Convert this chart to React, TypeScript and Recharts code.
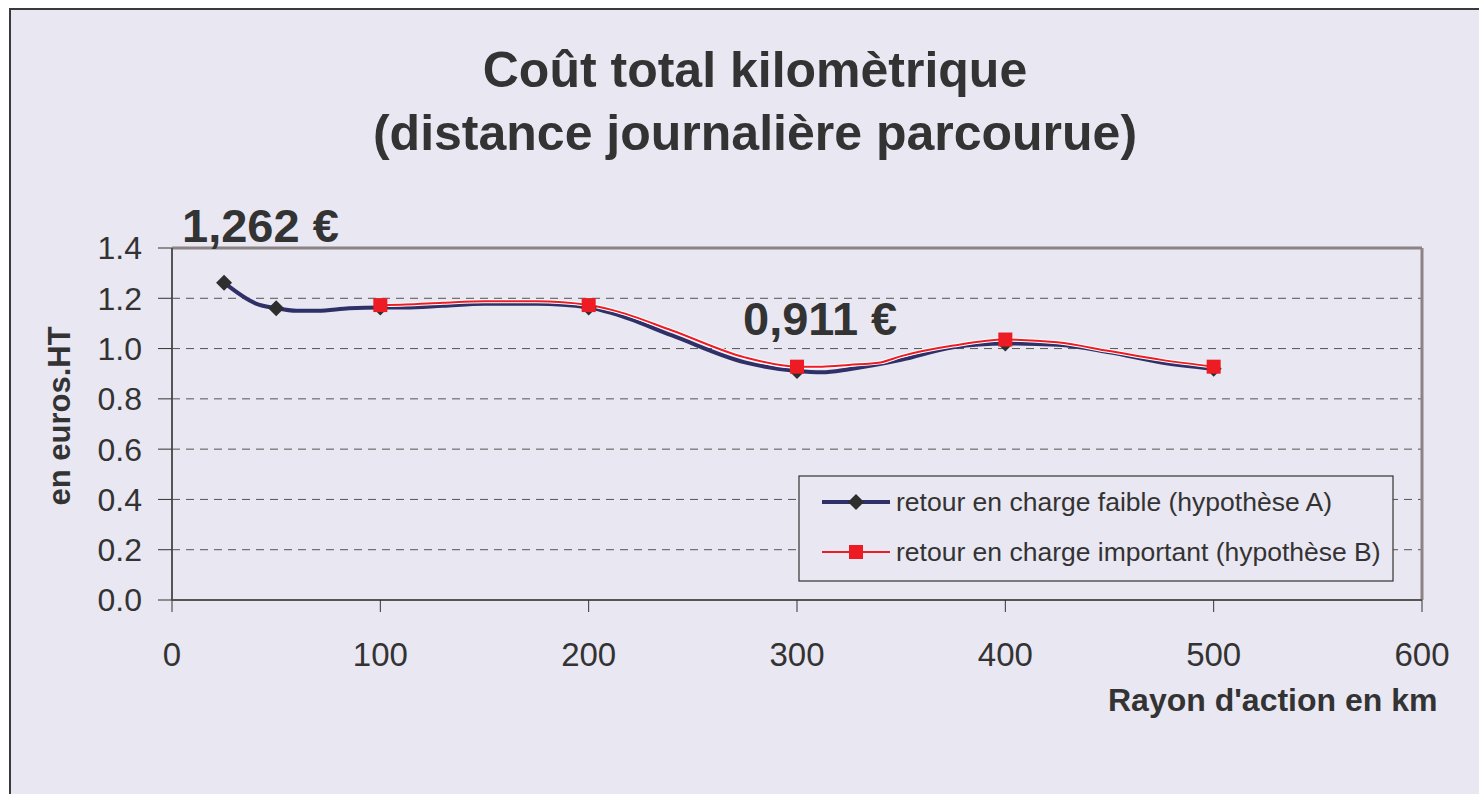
import React from "react";
import {
  CartesianGrid,
  Line,
  LineChart,
  ReferenceLine,
  XAxis,
  YAxis,
} from "recharts";

// hypothèse A : retour en charge faible
const KM_A = [25, 40, 50, 60, 70, 85, 100, 112, 130, 150, 175, 200, 212, 240, 275, 300, 312, 325, 350, 375, 400, 425, 450, 475, 500];
const COST_A = [1.262, 1.18, 1.16, 1.15, 1.15, 1.16, 1.163, 1.163, 1.17, 1.178, 1.178, 1.163, 1.139, 1.052, 0.945, 0.911, 0.906, 0.918, 0.955, 1.005, 1.02, 1.015, 0.985, 0.945, 0.92];
const MARK_A = [25, 50, 100, 200, 300, 400, 500];

// hypothèse B : retour en charge important
const KM_B = [100, 112, 130, 150, 175, 200, 212, 240, 275, 300, 312, 325, 340, 350, 375, 400, 425, 450, 475, 500];
const COST_B = [1.173, 1.175, 1.182, 1.188, 1.188, 1.173, 1.152, 1.072, 0.965, 0.928, 0.928, 0.935, 0.945, 0.97, 1.012, 1.036, 1.025, 0.99, 0.955, 0.928];
const MARK_B = [100, 200, 300, 400, 500];

const X_TICKS = [0, 100, 200, 300, 400, 500, 600];
const Y_TICKS = [0, 0.2, 0.4, 0.6, 0.8, 1.0, 1.2, 1.4];

const SERIES_A_NAME = "retour en charge faible (hypothèse A)";
const SERIES_B_NAME = "retour en charge important (hypothèse B)";

const seriesA = KM_A.map((km, i) => ({ km, cost: COST_A[i] }));
const seriesB = KM_B.map((km, i) => ({ km, cost: COST_B[i] }));

const FONT = '"Liberation Sans", Arial, sans-serif';
const BG = "#E9E7F2";
const TEXT = "#333333";
const NAVY = "#2F3068";
const RED = "#ED1C24";

const diamondDot = (props: any) => {
  const { cx, cy, payload, index } = props;
  if (!MARK_A.includes(payload.km)) return <g key={`a-${index}`} />;
  return (
    <path
      key={`a-${index}`}
      d={`M${cx},${cy - 8} L${cx + 8},${cy} L${cx},${cy + 8} L${cx - 8},${cy} Z`}
      fill="#2e2e2e"
    />
  );
};

const squareDot = (props: any) => {
  const { cx, cy, payload, index } = props;
  if (!MARK_B.includes(payload.km)) return <g key={`b-${index}`} />;
  return <rect key={`b-${index}`} x={cx - 7} y={cy - 7} width={14} height={14} fill={RED} />;
};

export default function App() {
  return (
    <>
      <style>{`body{margin:0;overflow:hidden;background:#fff}`}</style>
      <div
        style={{
          position: "absolute",
          left: 9,
          top: 8,
          width: 1468,
          height: 784,
          background: BG,
          borderLeft: "2px solid #3a3a3a",
          borderTop: "2px solid #3a3a3a",
          fontFamily: FONT,
        }}
      >
        <LineChart
          width={1468}
          height={784}
          margin={{ top: 238, right: 57, left: 61, bottom: 134 }}
        >
          <CartesianGrid
            vertical={false}
            stroke="#555"
            strokeDasharray="8 6"
          />
          <XAxis
            type="number"
            dataKey="km"
            domain={[0, 600]}
            ticks={X_TICKS}
            height={60}
            allowDuplicatedCategory={false}
            axisLine={{ stroke: "#555", strokeWidth: 2 }}
            tickLine={{ stroke: "#333" }}
            tickSize={12}
            tickMargin={31}
            tick={{ fill: TEXT, fontSize: 33, fontFamily: FONT }}
          />
          <YAxis
            type="number"
            domain={[0, 1.4]}
            ticks={Y_TICKS}
            width={100}
            axisLine={{ stroke: "#555", strokeWidth: 2 }}
            tickLine={{ stroke: "#333" }}
            tickSize={14}
            tickMargin={16}
            tickFormatter={(v: number) => v.toFixed(1)}
            tick={{ fill: TEXT, fontSize: 32, fontFamily: FONT }}
          />
          <ReferenceLine y={1.4} stroke="#8c8484" strokeWidth={3} />
          <ReferenceLine x={600} stroke="#8c8484" strokeWidth={3} />
          <Line
            data={seriesA}
            dataKey="cost"
            name={SERIES_A_NAME}
            type="monotone"
            stroke={NAVY}
            strokeWidth={4}
            dot={diamondDot}
            activeDot={false}
            isAnimationActive={false}
          />
          <Line
            data={seriesB}
            dataKey="cost"
            name="halo"
            type="monotone"
            stroke="#ffffff"
            strokeWidth={4}
            dot={false}
            activeDot={false}
            legendType="none"
            isAnimationActive={false}
          />
          <Line
            data={seriesB}
            dataKey="cost"
            name={SERIES_B_NAME}
            type="monotone"
            stroke={RED}
            strokeWidth={2}
            dot={squareDot}
            activeDot={false}
            isAnimationActive={false}
          />
        </LineChart>

        <svg
          width={1468}
          height={784}
          style={{ position: "absolute", left: 0, top: 0, pointerEvents: "none" }}
        >
          <g fontFamily={FONT} fill={TEXT}>
            <text x={744} y={77} fontSize={50} fontWeight="bold" textAnchor="middle">
              Coût total kilomètrique
            </text>
            <text x={744} y={140} fontSize={50} fontWeight="bold" textAnchor="middle">
              (distance journalière parcourue)
            </text>
            <text x={171} y={232} fontSize={47} fontWeight="bold">
              1,262 €
            </text>
            <text x={732} y={325} fontSize={47} fontWeight="bold">
              0,911 €
            </text>
            <text
              x={59}
              y={406}
              fontSize={31}
              fontWeight="bold"
              textAnchor="middle"
              transform="rotate(-90 59 406)"
            >
              en euros.HT
            </text>
            <text x={1097} y={701} fontSize={32} fontWeight="bold">
              Rayon d'action en km
            </text>
          </g>

          <g fontFamily={FONT}>
            <rect x={788} y={466} width={594} height={105} fill={BG} stroke="#333" strokeWidth={1.2} />
            <line x1={811} y1={492} x2={879} y2={492} stroke={NAVY} strokeWidth={4} />
            <path d="M845,484 L853,492 L845,500 L837,492 Z" fill="#2e2e2e" />
            <text x={885} y={501} fontSize={26.5} fill={TEXT}>
              {SERIES_A_NAME}
            </text>
            <line x1={811} y1={542} x2={879} y2={542} stroke={RED} strokeWidth={2} />
            <rect x={838} y={535} width={14} height={14} fill={RED} />
            <text x={885} y={551} fontSize={26.5} fill={TEXT}>
              {SERIES_B_NAME}
            </text>
          </g>
        </svg>
      </div>
    </>
  );
}
